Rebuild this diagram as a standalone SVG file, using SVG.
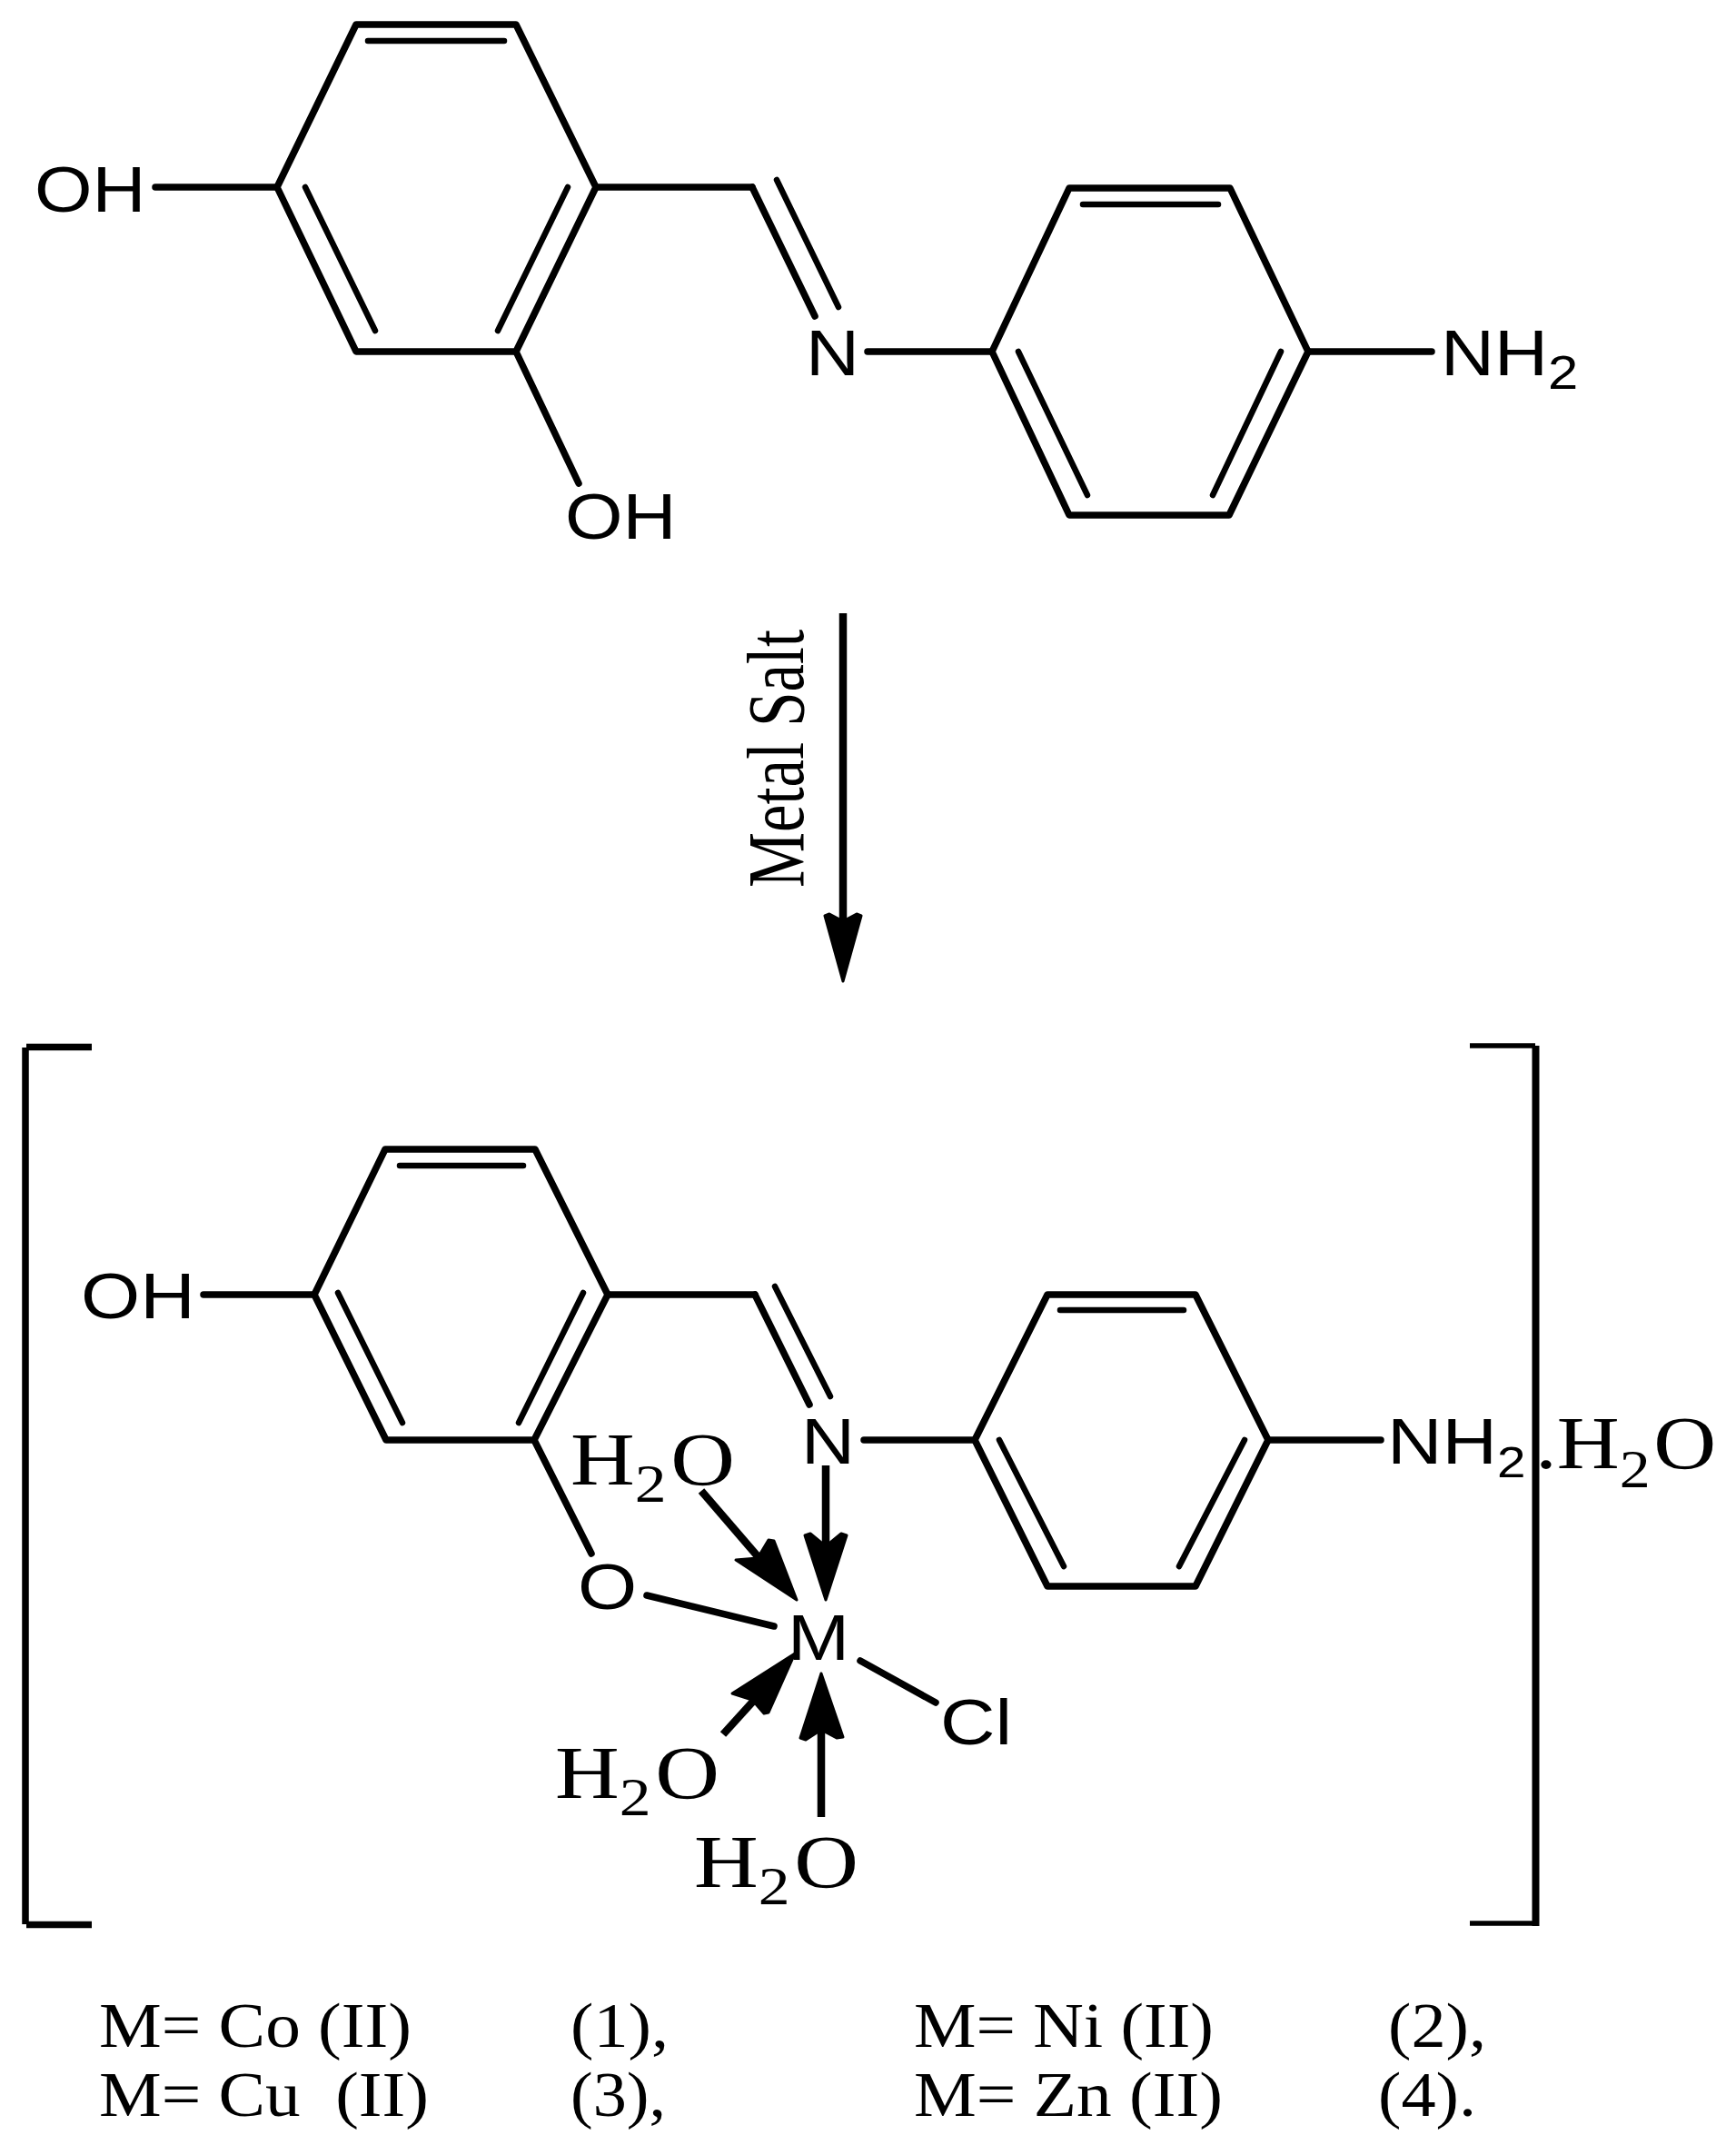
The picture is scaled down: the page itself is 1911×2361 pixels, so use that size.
<svg xmlns="http://www.w3.org/2000/svg" width="1911" height="2361" viewBox="0 0 1911 2361">
<style>
text{fill:#000}
.s{font-family:"Liberation Sans",Arial,sans-serif;font-size:71px}
.t{font-family:"Liberation Serif","Times New Roman",serif;font-size:83px}
.c{font-family:"Liberation Serif","Times New Roman",serif;font-size:69px}
.sub{font-size:52px}
.subt{font-size:59px}
.ring{fill:none;stroke:#000;stroke-width:7.500;stroke-linejoin:round}
.b{fill:none;stroke:#000;stroke-width:7.500;stroke-linecap:round}
.i{fill:none;stroke:#000;stroke-width:6.500;stroke-linecap:round}
.sh{fill:none;stroke:#000;stroke-width:8.500}
.h{fill:#000;stroke:#000;stroke-width:3;stroke-linejoin:round}
.br{fill:none;stroke:#000;stroke-width:7.500;stroke-linejoin:miter}
</style>
<rect width="1911" height="2361" fill="#fff"/>
<g id="connectors">
<!-- top molecule -->
<line class="b" x1="171" y1="206" x2="305" y2="206"/>
<line class="b" x1="656" y1="206" x2="828" y2="206"/>
<line class="b" x1="828" y1="206" x2="897" y2="348"/>
<line class="i" x1="855" y1="198" x2="923" y2="338"/>
<line class="b" x1="568" y1="387" x2="637" y2="532"/>
<line class="b" x1="955" y1="387" x2="1092" y2="387"/>
<line class="b" x1="1440" y1="387" x2="1576" y2="387"/>
<!-- reaction arrow -->
<line class="sh" x1="928" y1="675" x2="928" y2="1020"/>
<polygon class="h" points="928,1080 908,1008 913,1006 928,1014 943,1006 948,1008"/>
<!-- complex -->
<line class="b" x1="224" y1="1425" x2="346" y2="1425"/>
<line class="b" x1="669" y1="1425" x2="831" y2="1425"/>
<line class="b" x1="831" y1="1425" x2="891" y2="1546"/>
<line class="i" x1="853" y1="1416" x2="914" y2="1537"/>
<line class="b" x1="588" y1="1585" x2="651" y2="1710"/>
<line class="b" x1="951" y1="1585" x2="1073" y2="1585"/>
<line class="b" x1="1396" y1="1585" x2="1520" y2="1585"/>
<line class="b" x1="712" y1="1756" x2="852" y2="1790"/>
<line class="b" x1="947" y1="1828" x2="1030" y2="1874"/>
<line class="sh" x1="772" y1="1641" x2="840" y2="1720"/>
<polygon class="h" points="877,1761 810,1717 834,1715 846,1695 852,1696"/>
<line class="sh" x1="909" y1="1613" x2="909" y2="1705"/>
<polygon class="h" points="909,1761 886,1690 892,1688 909,1702 926,1688 932,1690"/>
<line class="sh" x1="796" y1="1909" x2="835" y2="1866"/>
<polygon class="h" points="875,1820 806,1864 828,1871 841,1886 846,1885"/>
<line class="sh" x1="904" y1="2000" x2="904" y2="1900"/>
<polygon class="h" points="904,1842 881,1913 887,1915 904,1904 921,1913 928,1912"/>
</g>
<g id="ring-a"><polygon class="ring" points="392,27 568,27 656,206 568,387 392,387 305,206"/>
<line class="i" x1="405" y1="45" x2="555" y2="45"/><line class="i" x1="336" y1="206" x2="413" y2="364"/><line class="i" x1="625" y1="206" x2="548" y2="364"/></g>
<g id="ring-b"><polygon class="ring" points="1177,207 1354,207 1440,387 1353,567 1177,567 1092,387"/>
<line class="i" x1="1192" y1="225" x2="1341" y2="225"/><line class="i" x1="1121" y1="387" x2="1197" y2="545"/><line class="i" x1="1410" y1="387" x2="1335" y2="545"/></g>
<g id="ring-c"><polygon class="ring" points="424,1265 589,1265 669,1425 588,1585 425,1585 346,1425"/>
<line class="i" x1="440" y1="1283" x2="576" y2="1283"/><line class="i" x1="372" y1="1423" x2="443" y2="1566"/><line class="i" x1="642" y1="1423" x2="571" y2="1566"/></g>
<g id="ring-d"><polygon class="ring" points="1153,1425 1316,1425 1396,1585 1316,1746 1153,1746 1073,1585"/>
<line class="i" x1="1167" y1="1442" x2="1303" y2="1442"/><line class="i" x1="1100" y1="1585" x2="1171" y2="1724"/><line class="i" x1="1370" y1="1585" x2="1298" y2="1724"/></g>
<g id="bracket-left"><path class="br" d="M29,1152.500H101M28,1153V2118M29,2118.500H101"/></g>
<g id="bracket-right"><path class="br" style="stroke-width:5.500" d="M1618,1151H1690M1618,2117H1690"/><line x1="1690.500" y1="1151" x2="1690.500" y2="2120" stroke="#000" stroke-width="8"/></g>
<g id="oh-1"><text class="s" transform="translate(38,233) scale(1.15,1)">OH</text></g>
<g id="oh-2"><text class="s" transform="translate(622,593) scale(1.15,1)">OH</text></g>
<g id="n-1"><text class="s" transform="translate(887,413) scale(1.15,1)">N</text></g>
<g id="nh2-1"><text class="s" transform="translate(1586,413) scale(1.15,1)">NH<tspan class="sub" dy="15">2</tspan></text></g>
<g id="metal-salt"><text transform="translate(884,977) rotate(-90)" font-family="Liberation Serif, Times New Roman, serif" font-size="88" textLength="284" lengthAdjust="spacingAndGlyphs">Metal Salt</text></g>
<g id="oh-3"><text class="s" transform="translate(89,1451) scale(1.18,1)">OH</text></g>
<g id="n-2"><text class="s" transform="translate(882,1611) scale(1.15,1)">N</text></g>
<g id="o"><text class="s" transform="translate(636,1771) scale(1.18,1)">O</text></g>
<g id="m"><text class="s" transform="translate(867,1827) scale(1.15,1)">M</text></g>
<g id="cl"><text class="s" transform="translate(1035,1920) scale(1.18,1)">Cl</text></g>
<g id="nh2-2"><text class="s" transform="translate(1527,1611) scale(1.18,1)">NH<tspan style="font-size:48px" dy="15">2</tspan></text></g>
<g id="h2o-hydrate"><text class="t" transform="translate(1690,1616) scale(1.15,1)">.H<tspan class="subt" dy="21">2</tspan><tspan dy="-21" dx="3">O</tspan></text></g>
<g id="h2o-1"><text class="t" transform="translate(628,1634) scale(1.18,1)">H<tspan class="subt" dy="19">2</tspan><tspan dy="-19" dx="4">O</tspan></text></g>
<g id="h2o-2"><text class="t" transform="translate(611,1979) scale(1.18,1)">H<tspan class="subt" dy="19">2</tspan><tspan dy="-19" dx="4">O</tspan></text></g>
<g id="h2o-3"><text class="t" transform="translate(764,2077) scale(1.18,1)">H<tspan class="subt" dy="19">2</tspan><tspan dy="-19" dx="4">O</tspan></text></g>
<g id="legend">
<text class="c" x="109" y="2253" textLength="344" lengthAdjust="spacingAndGlyphs">M= Co (II)</text>
<text class="c" x="628" y="2253" textLength="108" lengthAdjust="spacingAndGlyphs">(1),</text>
<text class="c" x="1006" y="2253" textLength="330" lengthAdjust="spacingAndGlyphs">M= Ni (II)</text>
<text class="c" x="1528" y="2253" textLength="108" lengthAdjust="spacingAndGlyphs">(2),</text>
<text class="c" x="109" y="2329" textLength="363" lengthAdjust="spacingAndGlyphs" xml:space="preserve">M= Cu  (II)</text>
<text class="c" x="628" y="2329" textLength="105" lengthAdjust="spacingAndGlyphs">(3),</text>
<text class="c" x="1006" y="2329" textLength="340" lengthAdjust="spacingAndGlyphs">M= Zn (II)</text>
<text class="c" x="1517" y="2329" textLength="108" lengthAdjust="spacingAndGlyphs">(4).</text>
</g>
</svg>
